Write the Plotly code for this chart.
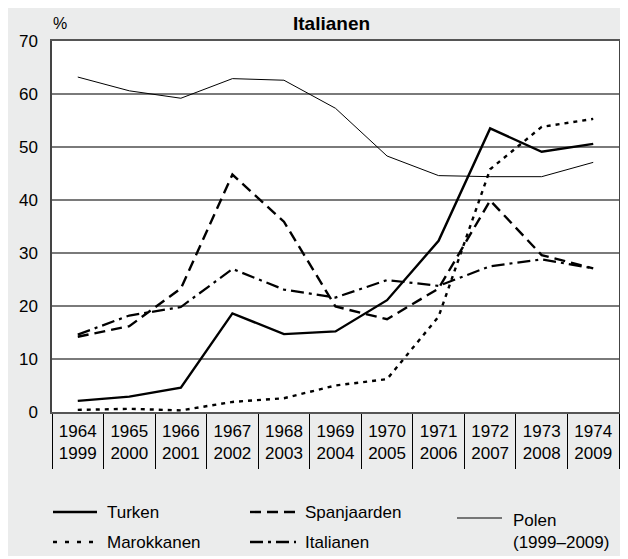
import plotly.graph_objects as go

# ---------------- data ----------------
cat_top = ["1964", "1965", "1966", "1967", "1968", "1969", "1970", "1971", "1972", "1973", "1974"]
cat_bottom = ["1999", "2000", "2001", "2002", "2003", "2004", "2005", "2006", "2007", "2008", "2009"]
categories = [f"{a}<br>{b}" for a, b in zip(cat_top, cat_bottom)]

turken = [2.1, 2.9, 4.6, 18.6, 14.7, 15.2, 21.1, 32.3, 53.5, 49.1, 50.6]
marokkanen = [0.4, 0.6, 0.3, 1.9, 2.6, 5.0, 6.2, 18.0, 45.8, 53.8, 55.3]
spanjaarden = [14.2, 16.2, 23.3, 44.8, 35.9, 19.9, 17.5, 23.3, 39.9, 29.6, 27.1]
italianen = [14.6, 18.2, 19.8, 27.0, 23.1, 21.6, 24.9, 23.8, 27.5, 28.8, 27.1]
polen = [63.2, 60.6, 59.2, 62.9, 62.6, 57.3, 48.3, 44.6, 44.4, 44.4, 47.1]

y_ticks = [0, 10, 20, 30, 40, 50, 60, 70]

# ---------------- layout constants ----------------
# the page body has an 8px margin, so figure coords = page coords - 8
OFF = 8
W, H = 628, 548
L, T = 52 - OFF, 41 - OFF
PLOT_R, PLOT_B = 619 - OFF, 412 - OFF
R, B = W - PLOT_R, H - PLOT_B
PW, PH = PLOT_R - L, PLOT_B - T
FONT = "Liberation Sans, Arial, sans-serif"
GRAY_BG = "#ebecec"


def px_x(page_x):
    return (page_x - OFF - L) / PW


def px_y(page_y):
    return (PLOT_B - (page_y - OFF)) / PH


styles = {
    "Turken": dict(width=2.4, dash="solid"),
    "Marokkanen": dict(width=2.4, dash="4px,5px"),
    "Spanjaarden": dict(width=2.4, dash="11px,6px"),
    "Italianen": dict(width=2.2, dash="13px,5px,3px,5px"),
    "Polen": dict(width=1.0, dash="solid"),
}
series = [
    ("Polen", polen),
    ("Italianen", italianen),
    ("Spanjaarden", spanjaarden),
    ("Marokkanen", marokkanen),
    ("Turken", turken),
]

fig = go.Figure()
for name, vals in series:
    st = styles[name]
    fig.add_trace(go.Scatter(
        x=categories, y=vals, mode="lines", name=name,
        line=dict(color="black", width=st["width"], dash=st["dash"]),
        showlegend=False, hoverinfo="skip",
    ))

shapes = []
annotations = []

# cut-off text at the very top of the page
annotations.append(dict(text="(1964–1974)", xref="paper", yref="paper",
                        x=px_x(193), y=px_y(-4), xanchor="center", yanchor="middle",
                        showarrow=False, font=dict(family=FONT, size=19, color="black")))

# title and unit
annotations.append(dict(text="<b>Italianen</b>", xref="paper", yref="paper",
                        x=px_x(331), y=px_y(24), xanchor="center", yanchor="middle",
                        showarrow=False, font=dict(family=FONT, size=19, color="black")))
annotations.append(dict(text="%", xref="paper", yref="paper",
                        x=px_x(51), y=px_y(23), xanchor="left", yanchor="middle",
                        showarrow=False, font=dict(family=FONT, size=16, color="black")))

# legend (manual), positions in page pixels
legend_items = [
    ("Turken", 53, 97, 512, 105, 512),
    ("Marokkanen", 53, 97, 542, 105, 542),
    ("Spanjaarden", 250, 296, 512, 303, 512),
    ("Italianen", 250, 296, 542, 303, 542),
]
legend_dash = {
    "Turken": "solid",
    "Marokkanen": "4px,8px",
    "Spanjaarden": "11px,6px",
    "Italianen": "13px,5px,3px,5px",
}
for name, lx0, lx1, ly, tx, ty in legend_items:
    shapes.append(dict(type="line", xref="paper", yref="paper",
                       x0=px_x(lx0), x1=px_x(lx1), y0=px_y(ly), y1=px_y(ly),
                       line=dict(color="black", width=2.4, dash=legend_dash[name])))
    annotations.append(dict(text=name, xref="paper", yref="paper",
                            x=px_x(tx), y=px_y(ty), xanchor="left", yanchor="middle",
                            showarrow=False, font=dict(family=FONT, size=17, color="black")))
shapes.append(dict(type="line", xref="paper", yref="paper",
                   x0=px_x(457), x1=px_x(502), y0=px_y(518), y1=px_y(518),
                   line=dict(color="black", width=1.0)))
annotations.append(dict(text="Polen<br>(1999–2009)", xref="paper", yref="paper",
                        x=px_x(511), y=px_y(531), xanchor="left", yanchor="middle",
                        align="left", showarrow=False,
                        font=dict(family=FONT, size=17, color="black")))

fig.update_layout(
    width=W, height=H,
    margin=dict(l=L, r=R, t=T, b=B, pad=0, autoexpand=False),
    paper_bgcolor=GRAY_BG,
    plot_bgcolor="white",
    font=dict(family=FONT, size=17, color="black"),
    shapes=shapes,
    annotations=annotations,
    showlegend=False,
)

fig.update_xaxes(
    type="category",
    categoryorder="array", categoryarray=categories,
    range=[-0.5, len(categories) - 0.5],
    tickson="boundaries",
    ticks="outside", ticklen=55, tickwidth=1.3, tickcolor="black",
    ticklabelstandoff=3,
    tickfont=dict(family=FONT, size=17, color="black"),
    showgrid=False, automargin=False,
    showline=True, linecolor="#555555", linewidth=1.5, mirror=True,
    zeroline=False, fixedrange=True,
)
fig.update_yaxes(
    range=[0, 70],
    tickmode="array", tickvals=y_ticks, ticktext=[str(v) for v in y_ticks],
    ticks="outside", ticklen=9, tickcolor="rgba(0,0,0,0)",
    tickfont=dict(family=FONT, size=17, color="black"),
    showgrid=True, gridcolor="#7a7a7a", gridwidth=1.5, automargin=False,
    showline=True, linecolor="#444444", linewidth=1.5, mirror=True,
    zeroline=False, fixedrange=True,
)

fig.write_html("out.html")
